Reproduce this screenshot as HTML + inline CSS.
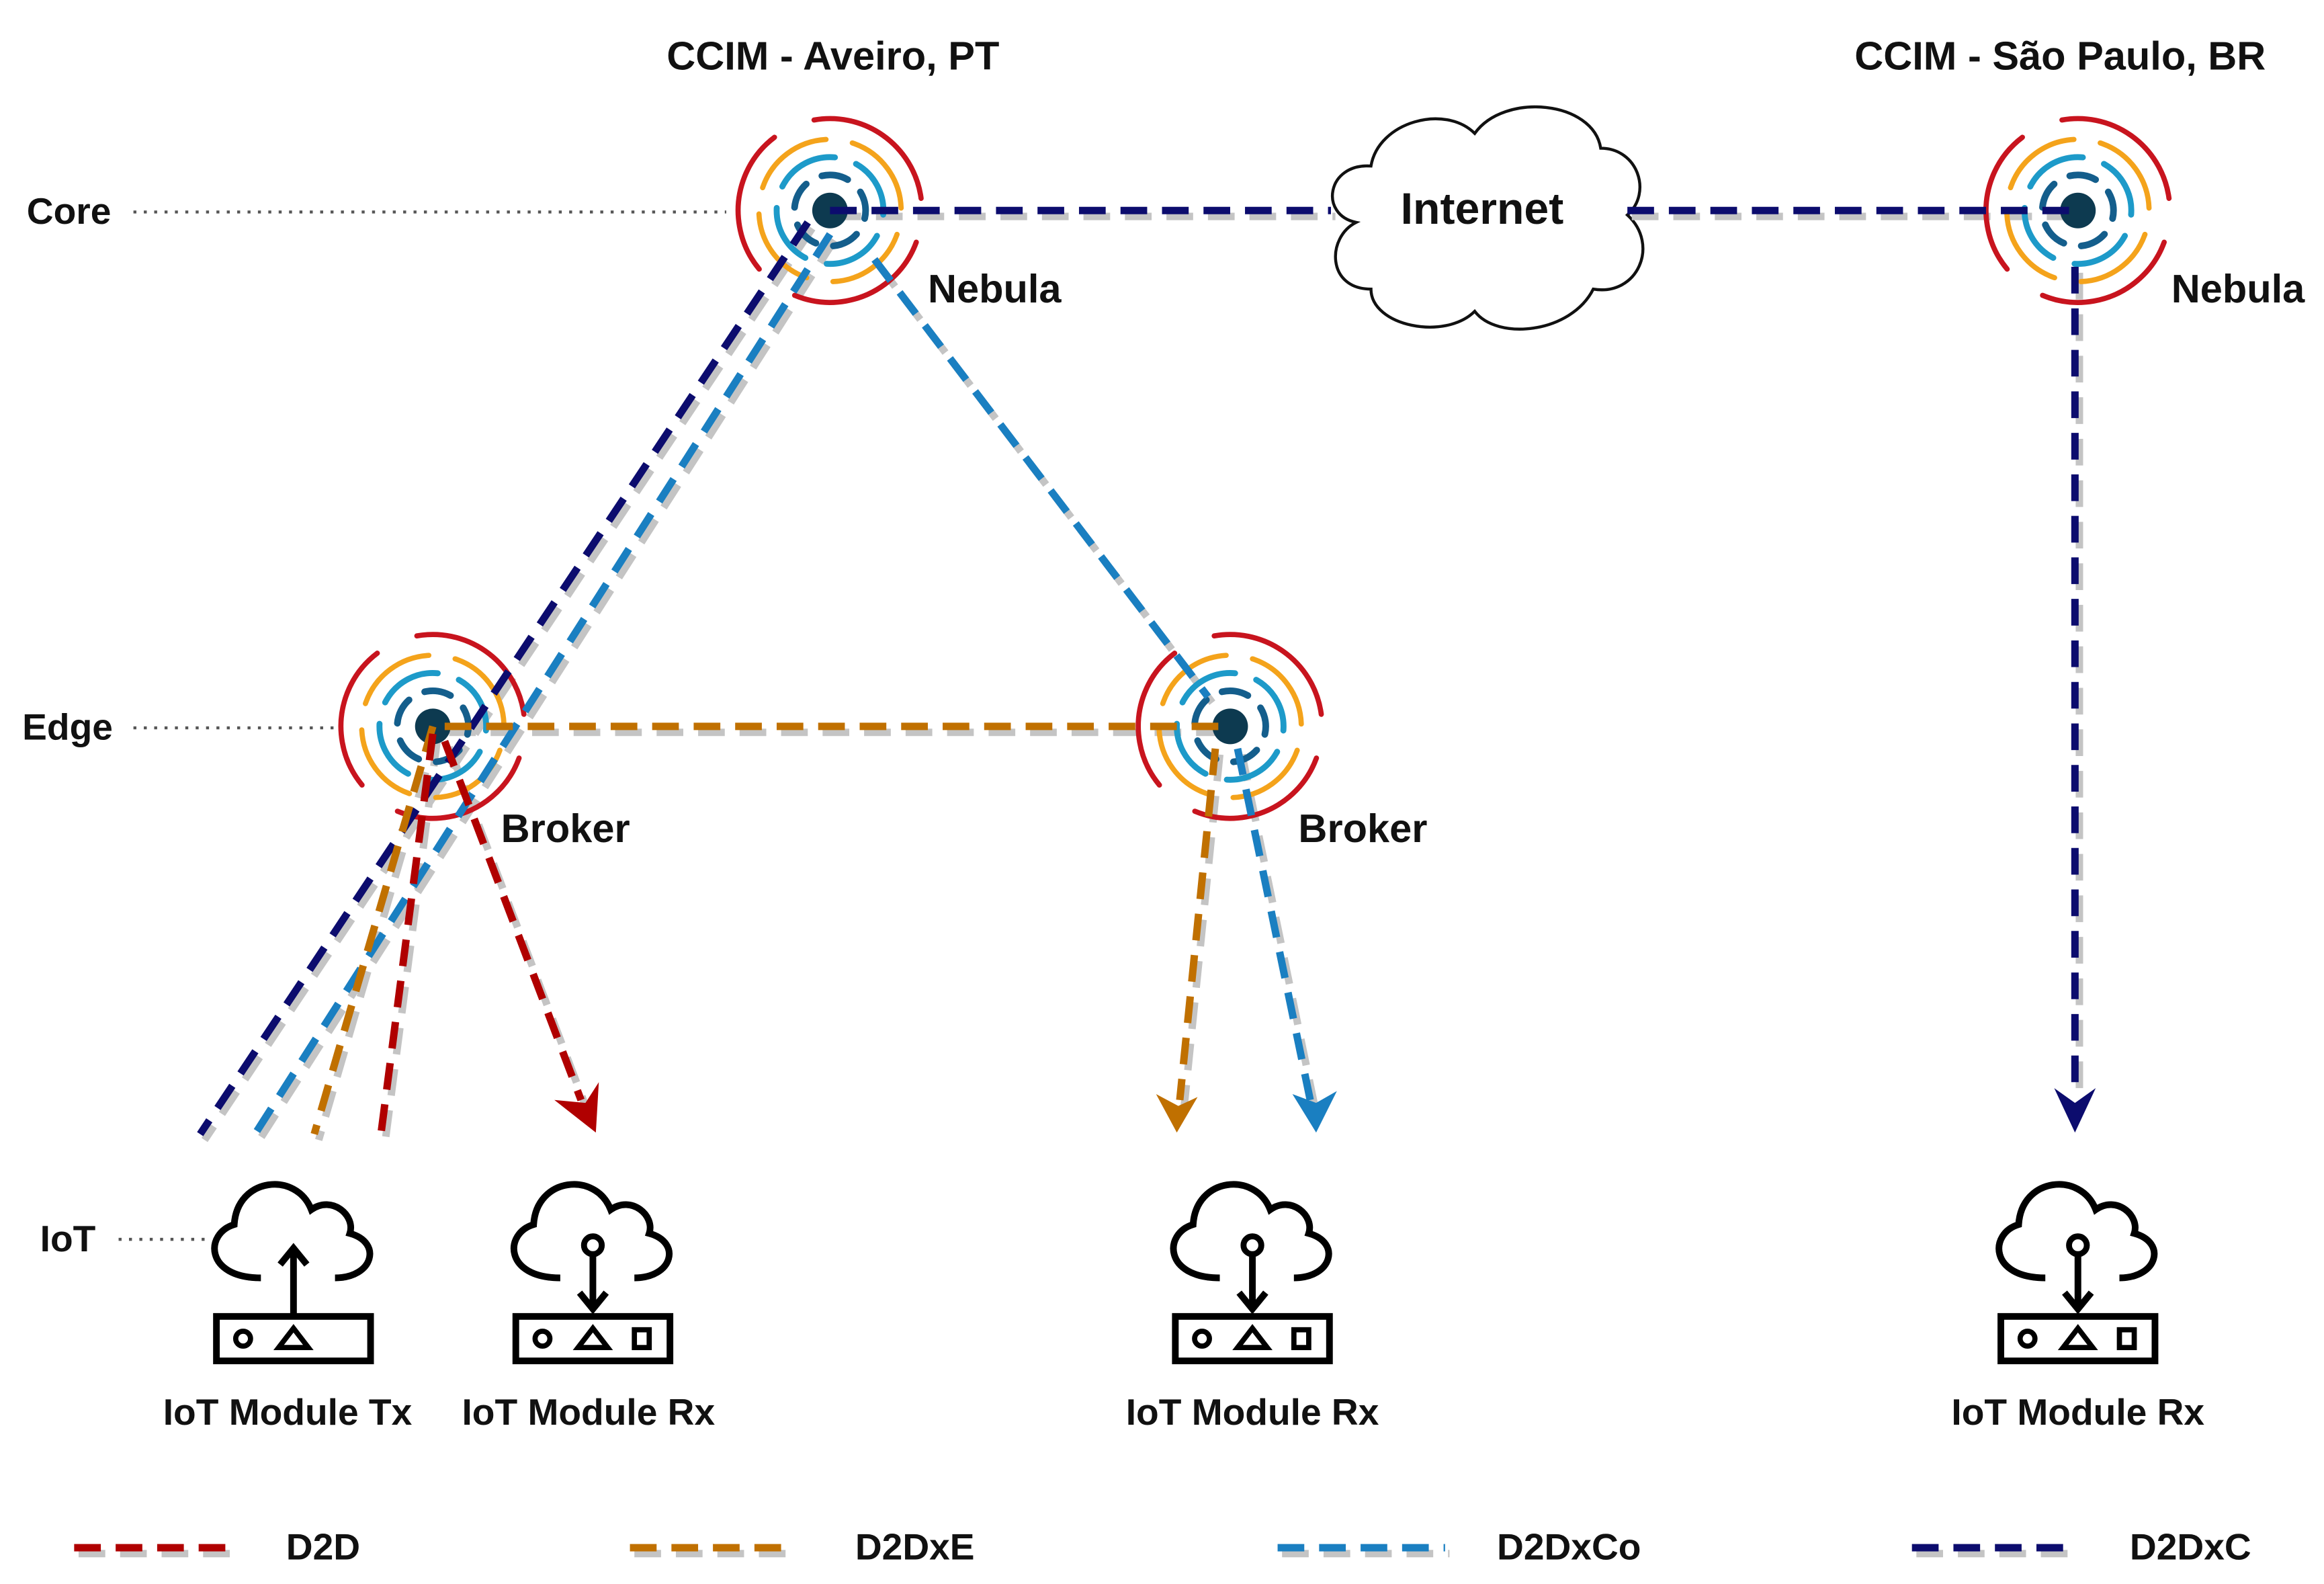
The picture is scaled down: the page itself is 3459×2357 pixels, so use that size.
<!DOCTYPE html>
<html><head><meta charset="utf-8"><style>
html,body{margin:0;padding:0;background:#fff;}
svg{display:block;}
text{font-family:"Liberation Sans",Arial,sans-serif;font-weight:bold;fill:#111;}
</style></head><body>
<svg width="3459" height="2357" viewBox="0 0 1568 1068.5" xmlns="http://www.w3.org/2000/svg">
<defs>
<g id="node">
 <circle r="62" fill="none" stroke="#c8141e" stroke-width="3.5" stroke-dasharray="100 30" stroke-linecap="round" transform="rotate(-100)"/>
 <circle r="48" fill="none" stroke="#f4a31b" stroke-width="3.5" stroke-dasharray="57 18" stroke-linecap="round" transform="rotate(-70)"/>
 <circle r="36" fill="none" stroke="#1d9ac9" stroke-width="4" stroke-dasharray="41 15" stroke-linecap="round" transform="rotate(-150)"/>
 <circle r="24" fill="none" stroke="#145e8c" stroke-width="4.5" stroke-dasharray="18 12" stroke-linecap="round" transform="rotate(-30)"/>
 <circle r="12" fill="#0d3a50"/>
</g>
<g id="iot" fill="none" stroke="#000" stroke-width="4.5">
 <path d="M-20,-4 C-58,-4 -58,-34 -38,-40 C-36,-72 4,-76 14,-50 C28,-60 44,-46 40,-34 C62,-28 56,-4 30,-4" transform="translate(-2,0)"/>
 <rect x="-52" y="22" width="104" height="30"/>
</g>
</defs>

<g stroke="#555" stroke-width="2" stroke-dasharray="2 5" fill="none">
 <line x1="90" y1="143" x2="490" y2="143"/>
 <line x1="90" y1="491" x2="225" y2="491"/>
 <line x1="80" y1="836" x2="142" y2="836"/>
</g>
<text x="18" y="151" font-size="25">Core</text>
<text x="15" y="499" font-size="25">Edge</text>
<text x="27" y="844" font-size="25">IoT</text>

<path d="M915,150 C890,145 895,110 925,112 C930,82 975,70 995,90 C1015,62 1075,68 1080,100 C1105,100 1115,130 1098,145 C1120,165 1105,200 1075,195 C1060,225 1010,230 995,210 C975,230 925,220 925,195 C895,195 895,160 915,150 Z" fill="#fff" stroke="#111" stroke-width="2"/>
<text x="1000" y="151" font-size="30" text-anchor="middle">Internet</text>

<g stroke="#c4c4c4" stroke-width="5" stroke-dasharray="18 10" fill="none" transform="translate(3,4)">
 <line x1="560" y1="142" x2="898" y2="142"/>
 <line x1="1098" y1="142" x2="1400" y2="142"/>
 <line x1="1400" y1="180" x2="1400" y2="740"/>
 <line x1="545" y1="150" x2="135" y2="765"/>
 <line x1="560" y1="158" x2="172" y2="765"/>
 <line x1="292" y1="490" x2="212" y2="765"/>
 <line x1="292" y1="495" x2="257" y2="765"/>
 <line x1="300" y1="500" x2="392" y2="742"/>
 <line x1="590" y1="175" x2="815" y2="470"/>
 <line x1="300" y1="490" x2="825" y2="490"/>
 <line x1="820" y1="505" x2="796" y2="742"/>
 <line x1="835" y1="505" x2="884" y2="742"/>
 <line x1="50" y1="1044" x2="162" y2="1044"/>
 <line x1="425" y1="1044" x2="537" y2="1044"/>
 <line x1="862" y1="1044" x2="975" y2="1044"/>
 <line x1="1290" y1="1044" x2="1400" y2="1044"/>
</g>

<use href="#node" x="560" y="142"/>
<use href="#node" x="1402" y="142"/>
<use href="#node" x="292" y="490"/>
<use href="#node" x="830" y="490"/>

<g stroke-width="5" stroke-dasharray="18 10" fill="none">
 <line x1="560" y1="142" x2="898" y2="142" stroke="#0c0c6e"/>
 <line x1="1098" y1="142" x2="1400" y2="142" stroke="#0c0c6e"/>
 <line x1="1400" y1="180" x2="1400" y2="740" stroke="#0c0c6e"/>
 <line x1="545" y1="150" x2="135" y2="765" stroke="#0c0c6e"/>
 <line x1="560" y1="158" x2="172" y2="765" stroke="#1a7fc1"/>
 <line x1="292" y1="490" x2="212" y2="765" stroke="#c07000"/>
 <line x1="292" y1="495" x2="257" y2="765" stroke="#b00000"/>
 <line x1="300" y1="500" x2="392" y2="742" stroke="#b00000"/>
 <line x1="590" y1="175" x2="815" y2="470" stroke="#1a7fc1"/>
 <line x1="300" y1="490" x2="825" y2="490" stroke="#c07000"/>
 <line x1="820" y1="505" x2="796" y2="742" stroke="#c07000"/>
 <line x1="835" y1="505" x2="884" y2="742" stroke="#1a7fc1"/>
 <line x1="50" y1="1044" x2="162" y2="1044" stroke="#b00000"/>
 <line x1="425" y1="1044" x2="537" y2="1044" stroke="#c07000"/>
 <line x1="862" y1="1044" x2="975" y2="1044" stroke="#1a7fc1"/>
 <line x1="1290" y1="1044" x2="1400" y2="1044" stroke="#0c0c6e"/>
</g>
<path d="M1386,734 L1400,764 L1414,734 L1400,744 Z" fill="#0c0c6e"/>
<path d="M374,742 L402,764 L404,730 L395,744 Z" fill="#b00000"/>
<path d="M780,738 L794,764 L808,740 L795,746 Z" fill="#c07000"/>
<path d="M872,738 L888,764 L902,736 L888,744 Z" fill="#1a7fc1"/>

<g transform="translate(198,866)"><use href="#iot"/>
 <path d="M0,20 V-22 M-9,-13 L0,-24 L9,-13" fill="none" stroke="#000" stroke-width="4.5"/>
 <circle cx="-34" cy="37" r="5" fill="none" stroke="#000" stroke-width="3.5"/>
 <path d="M-10,43 L0,30 L10,43 Z" fill="none" stroke="#000" stroke-width="3.5"/></g>
<g id="rx1" transform="translate(400,866)"><use href="#iot"/>
 <circle cx="0" cy="-26" r="6" fill="none" stroke="#000" stroke-width="4"/>
 <path d="M0,-20 V16 M-9,6 L0,17 L9,6" fill="none" stroke="#000" stroke-width="4.5"/>
 <circle cx="-34" cy="37" r="5" fill="none" stroke="#000" stroke-width="3.5"/>
 <path d="M-10,43 L0,30 L10,43 Z" fill="none" stroke="#000" stroke-width="3.5"/>
 <rect x="28" y="31" width="10" height="12" fill="none" stroke="#000" stroke-width="3.5"/></g>
<use href="#rx1" x="445" y="0"/>
<use href="#rx1" x="1002" y="0"/>

<g font-size="27">
<text x="562" y="47" text-anchor="middle">CCIM - Aveiro, PT</text>
<text x="1390" y="47" text-anchor="middle">CCIM - São Paulo, BR</text>
<text x="626" y="204">Nebula</text>
<text x="1465" y="204">Nebula</text>
<text x="338" y="568">Broker</text>
<text x="876" y="568">Broker</text>
</g>
<g font-size="25" text-anchor="middle">
<text x="194" y="961">IoT Module Tx</text>
<text x="397" y="961">IoT Module Rx</text>
<text x="845" y="961">IoT Module Rx</text>
<text x="1402" y="961">IoT Module Rx</text>
</g>
<g font-size="25">
<text x="193" y="1052">D2D</text>
<text x="577" y="1052">D2DxE</text>
<text x="1010" y="1052">D2DxCo</text>
<text x="1437" y="1052">D2DxC</text>
</g>
</svg>
</body></html>
